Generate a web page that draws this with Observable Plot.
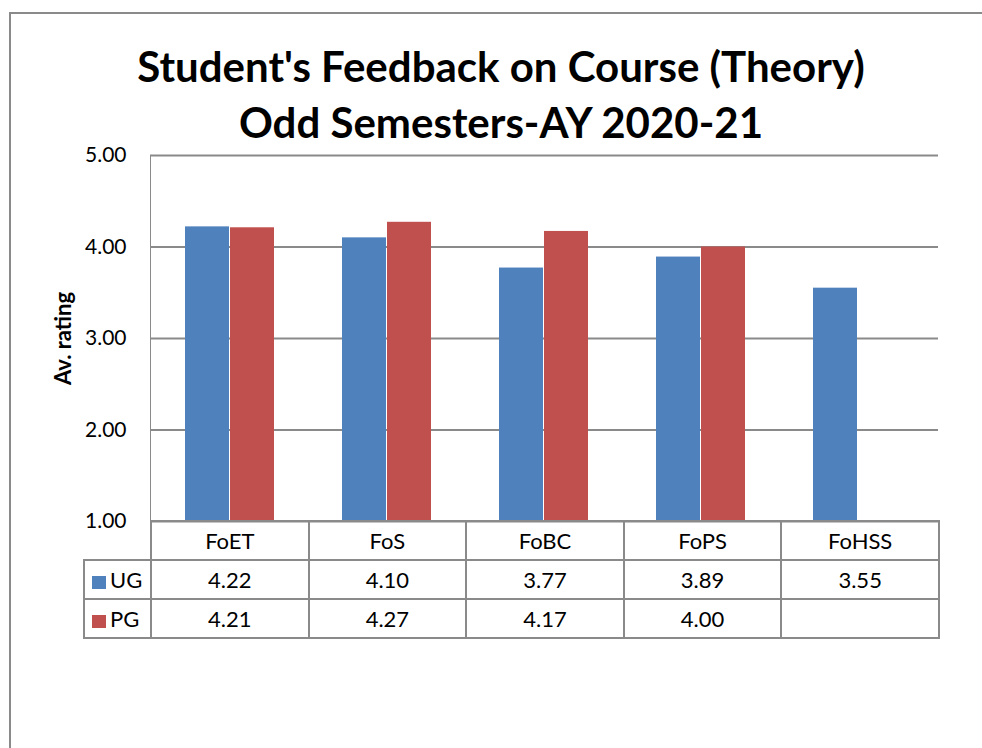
<!DOCTYPE html>
<html>
<head>
<meta charset="utf-8">
<script src="https://cdn.jsdelivr.net/npm/d3@7"></script>
<script src="https://cdn.jsdelivr.net/npm/@observablehq/plot@0.6"></script>
<style>
  body { margin: 0; background: #fff; }
  #wrap { position: relative; width: 982px; height: 748px; overflow: hidden; font-family: Lato, "Open Sans", sans-serif; }
  #frame { position: absolute; left: 9px; top: 12px; width: 1000px; height: 800px; border: 2px solid #8a8a8a; box-sizing: border-box; }
  #title { position: absolute; left: 20px; width: 962px; top: 38px; text-align: center; font-weight: bold; font-size: 42px; line-height: 56px; color: #000; }
  #chart { position: absolute; left: 0; top: 0; }
  #chart text { fill: #000; }
  #tbl { position: absolute; left: 83px; top: 520px; border-collapse: collapse; table-layout: fixed; font-size: 22px; color: #000; }
  #tbl td { border: 2px solid #8a8a8a; height: 37px; padding: 0; text-align: center; vertical-align: middle; }
  #tbl td.blank { border: none; }
  #tbl td.leg { text-align: left; padding-left: 7px; white-space: nowrap; }
  .sw { display: inline-block; width: 14px; height: 13px; margin-right: 4px; vertical-align: -1px; }
</style>
</head>
<body>
<div id="wrap">
  <div id="frame"></div>
  <div id="title"></div>
  <div id="chart"></div>
  <table id="tbl"></table>
</div>
<script>
const titleLines = ["Student's Feedback on Course (Theory)", "Odd Semesters-AY 2020-21"];
const categories = ["FoET", "FoS", "FoBC", "FoPS", "FoHSS"];
const seriesNames = ["UG", "PG"];
const seriesColors = ["#4F81BD", "#C0504D"];
const ugValues = [4.22, 4.10, 3.77, 3.89, 3.55];
const pgValues = [4.21, 4.27, 4.17, 4.00, null];
const yTicks = [1, 2, 3, 4, 5];
const yLabel = "Av. rating";

const fmt = d3.format(".2f");
const ug = categories.map((c, i) => ({cat: c, value: ugValues[i]})).filter(d => d.value != null);
const pg = categories.map((c, i) => ({cat: c, value: pgValues[i]})).filter(d => d.value != null);

document.getElementById("title").innerHTML = titleLines.map(t => `<div>${t}</div>`).join("");

const plot = Plot.plot({
  width: 982,
  height: 748,
  marginLeft: 150,
  marginRight: 44,
  marginTop: 155,
  marginBottom: 227,
  style: {background: "transparent", color: "#8a8a8a", fontFamily: "Lato, 'Open Sans', sans-serif", fontSize: "21px", overflow: "visible"},
  x: {domain: categories, paddingInner: 0.43, paddingOuter: 0.215, axis: null},
  y: {domain: [1, 5], ticks: yTicks, tickFormat: fmt, tickSize: 0, tickPadding: 24, line: true, label: null},
  marks: [
    Plot.ruleY(yTicks, {stroke: "#8a8a8a", strokeWidth: 2}),
    Plot.barY(ug, {x: "cat", y1: 1, y2: "value", fill: seriesColors[0], insetRight: 45}),
    Plot.barY(pg, {x: "cat", y1: 1, y2: "value", fill: seriesColors[1], insetLeft: 45}),
    Plot.text([yLabel], {frameAnchor: "left", textAnchor: "middle", rotate: -90, dx: -87, fontWeight: "bold", fontSize: 22, fill: "#000"})
  ]
});
document.getElementById("chart").appendChild(plot);

// data table
const tbl = document.getElementById("tbl");
const colgroup = `<colgroup><col style="width:67px">${categories.map(() => `<col style="width:157.6px">`).join("")}</colgroup>`;
const head = `<tr><td class="blank"></td>${categories.map(c => `<td>${c}</td>`).join("")}</tr>`;
const rows = [ugValues, pgValues].map((vals, s) =>
  `<tr><td class="leg"><span class="sw" style="background:${seriesColors[s]}"></span>${seriesNames[s]}</td>${vals.map(v => `<td>${v == null ? "" : fmt(v)}</td>`).join("")}</tr>`
).join("");
tbl.innerHTML = colgroup + head + rows;
</script>
</body>
</html>
